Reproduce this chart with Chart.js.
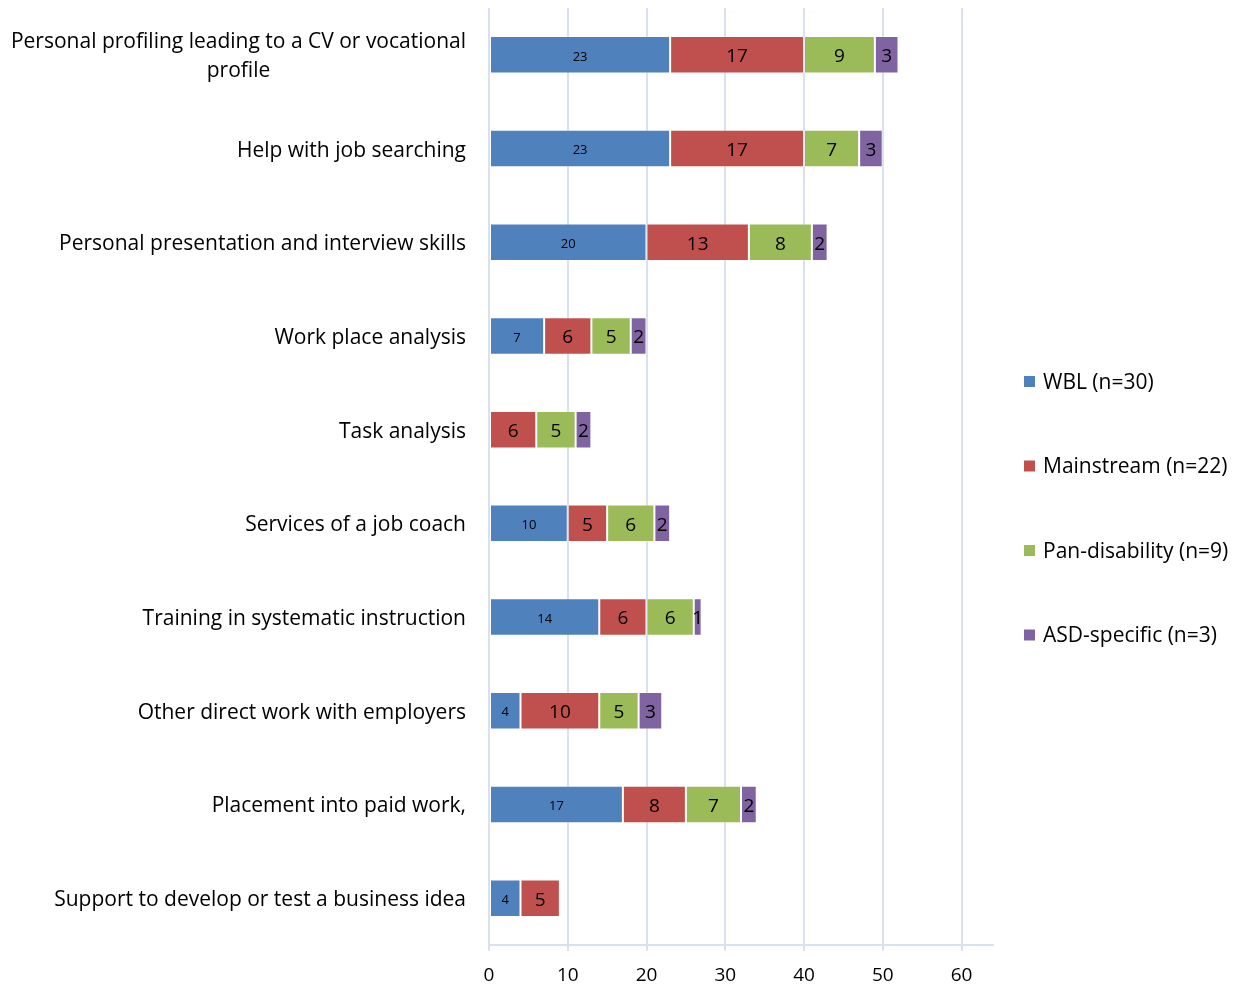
<!DOCTYPE html>
<html>
<head>
<meta charset="utf-8">
<script src="https://cdn.jsdelivr.net/npm/chart.js@4/dist/chart.umd.min.js"></script>
<style>
  html, body { margin: 0; padding: 0; background: #fff; }
  #wrap { position: relative; width: 1247px; height: 984px; }
</style>
</head>
<body>
<div id="wrap"><canvas id="chart"></canvas></div>
<script>
(() => {
  'use strict'

  // Data
  const categories = [
    ['Personal profiling leading to a CV or vocational', 'profile'],
    'Help with job searching',
    'Personal presentation and interview skills',
    'Work place analysis',
    'Task analysis',
    'Services of a job coach',
    'Training in systematic instruction',
    'Other direct work with employers',
    'Placement into paid work,',
    'Support to develop or test a business idea'
  ];
  const seriesNames = ['WBL (n=30)', 'Mainstream (n=22)', 'Pan-disability (n=9)', 'ASD-specific (n=3)'];
  const wbl = [23, 23, 20, 7, null, 10, 14, 4, 17, 4];
  const mainstream = [17, 17, 13, 6, 6, 5, 6, 10, 8, 5];
  const panDisability = [9, 7, 8, 5, 5, 6, 6, 5, 7, null];
  const asdSpecific = [3, 3, 2, 2, 2, 2, 1, 3, 2, null];
  const xTicks = [0, 10, 20, 30, 40, 50, 60];

  const colors = ['#4F81BD', '#C0504D', '#9BBB59', '#8064A2'];
  const FONT = "'Open Sans', 'Noto Sans', sans-serif";

  // Category labels, centred line by line, right edge next to the axis
  const categoryLabels = {
    id: 'categoryLabels',
    afterDraw(chart) {
      const { ctx } = chart;
      const y = chart.scales.y;
      const rightEdge = 466;
      const lineH = 29;
      ctx.save();
      ctx.font = `21px ${FONT}`;
      ctx.fillStyle = '#000';
      ctx.textBaseline = 'middle';
      categories.forEach((label, i) => {
        const lines = Array.isArray(label) ? label : [label];
        const widest = Math.max(...lines.map(l => ctx.measureText(l).width));
        const cx = rightEdge - widest / 2;
        const cy = y.getPixelForTick(i) + 2;
        lines.forEach((line, j) => {
          ctx.textAlign = 'center';
          ctx.fillText(line, cx, cy + (j - (lines.length - 1) / 2) * lineH);
        });
      });
      ctx.restore();
    }
  };

  // Values written in the middle of each segment
  const barValues = {
    id: 'barValues',
    afterDatasetsDraw(chart) {
      const { ctx } = chart;
      ctx.save();
      ctx.fillStyle = '#000';
      ctx.textAlign = 'center';
      ctx.textBaseline = 'middle';
      chart.data.datasets.forEach((ds, di) => {
        const meta = chart.getDatasetMeta(di);
        ctx.font = di === 0 ? `13px ${FONT}` : `19px ${FONT}`;
        meta.data.forEach((bar, i) => {
          const v = ds.data[i];
          if (!v) return;
          const p = bar.getCenterPoint();
          ctx.fillText(String(v), p.x, p.y + 2);
        });
      });
      ctx.restore();
    }
  };

  // Legend on the right
  const sideLegend = {
    id: 'sideLegend',
    afterDraw(chart) {
      const { ctx } = chart;
      const boxX = 1024;
      const textX = 1043;
      const firstY = 383;
      const step = 84.5;
      ctx.save();
      ctx.font = `21px ${FONT}`;
      ctx.textAlign = 'left';
      ctx.textBaseline = 'middle';
      chart.data.datasets.forEach((ds, i) => {
        const cy = firstY + i * step;
        ctx.fillStyle = ds.backgroundColor;
        ctx.fillRect(boxX, cy - 7, 11, 11);
        ctx.fillStyle = '#000';
        ctx.fillText(ds.label, textX, cy);
      });
      ctx.restore();
    }
  };

  const seriesData = [wbl, mainstream, panDisability, asdSpecific];

  new Chart(document.getElementById('chart'), {
    type: 'bar',
    data: {
      labels: categories.map(c => Array.isArray(c) ? c.join(' ') : c),
      datasets: seriesData.map((d, i) => ({
        label: seriesNames[i],
        data: d,
        backgroundColor: colors[i],
        borderColor: 'rgba(255,255,255,0.3)',
        borderWidth: 1,
        borderSkipped: false,
        barPercentage: 0.4,
        categoryPercentage: 1
      }))
    },
    options: {
      indexAxis: 'y',
      responsive: true,
      maintainAspectRatio: false,
      animation: false,
      layout: { padding: { top: 8, right: 254, left: 0, bottom: 0 } },
      plugins: {
        legend: { display: false },
        tooltip: { enabled: false }
      },
      scales: {
        x: {
          stacked: true,
          min: 0,
          max: 64,
          afterBuildTicks: s => { s.ticks = xTicks.map(v => ({ value: v })); },
          afterFit: s => { s.height = 39; },
          grid: { color: '#D9E1EE', lineWidth: 2, tickLength: 6 },
          border: { color: '#D9E1EE', width: 2 },
          ticks: { color: '#000', font: { family: FONT, size: 19 }, padding: 13 }
        },
        y: {
          stacked: true,
          afterFit: s => { s.width = 489; },
          grid: { display: false },
          border: { display: false },
          ticks: { display: false }
        }
      }
    },
    plugins: [categoryLabels, barValues, sideLegend]
  });
})();
</script>
</body>
</html>
